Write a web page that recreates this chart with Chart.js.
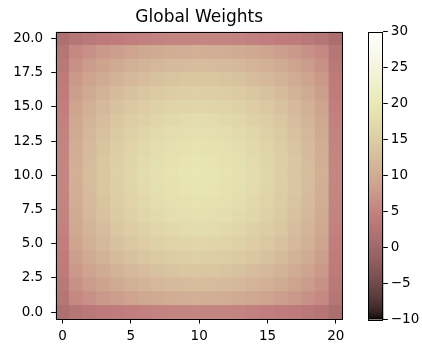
<!DOCTYPE html>
<html>
<head>
<meta charset="utf-8">
<script src="https://cdn.jsdelivr.net/npm/chart.js"></script>
<style>
    * { margin: 0; padding: 0; box-sizing: border-box; }
    body { width: 422px; height: 347px; background: #ffffff; overflow: hidden; }
    .wrap { position: relative; width: 422px; height: 347px; }
    .wrap canvas { position: absolute; left: 0; top: 0; }
</style>
</head>
<body>
<div class="wrap">
    <canvas id="heat" width="422" height="347"></canvas>
    <canvas id="cbar" width="422" height="347"></canvas>
</div>
<script>
// grid positions (cell centres)
const xCells = [0, 1, 2, 3, 4, 5, 6, 7, 8, 9, 10, 11, 12, 13, 14, 15, 16, 17, 18, 19, 20];
const yCells = [0, 1, 2, 3, 4, 5, 6, 7, 8, 9, 10, 11, 12, 13, 14, 15, 16, 17, 18, 19, 20];

// weights[row] is the row at y = row (row 0 is drawn at the bottom)
const weights = [
    [1.5, 2.9, 3.5, 3.9, 4.3, 4.6, 4.9, 5.1, 5.3, 5.4, 5.5, 5.4, 5.3, 5.1, 4.9, 4.6, 4.3, 3.9, 3.5, 2.9, 1.3],
    [2.9, 5.7, 6.7, 7.6, 8.3, 9.0, 9.5, 9.9, 10.2, 10.4, 10.5, 10.4, 10.2, 9.9, 9.5, 9.0, 8.3, 7.6, 6.7, 5.7, 2.9],
    [3.5, 6.7, 8.0, 9.0, 9.9, 10.6, 11.2, 11.7, 12.1, 12.4, 12.5, 12.4, 12.1, 11.7, 11.2, 10.6, 9.9, 9.0, 8.0, 6.7, 3.5],
    [3.9, 7.6, 9.0, 10.1, 11.1, 11.9, 12.6, 13.2, 13.6, 13.9, 14.0, 13.9, 13.6, 13.2, 12.6, 11.9, 11.1, 10.1, 9.0, 7.6, 3.9],
    [4.3, 8.3, 9.9, 11.1, 12.2, 13.1, 13.9, 14.5, 14.9, 15.3, 15.4, 15.3, 14.9, 14.5, 13.9, 13.1, 12.2, 11.1, 9.9, 8.3, 4.3],
    [4.6, 9.0, 10.6, 11.9, 13.1, 14.1, 14.9, 15.6, 16.1, 16.4, 16.6, 16.4, 16.1, 15.6, 14.9, 14.1, 13.1, 11.9, 10.6, 9.0, 4.6],
    [4.9, 9.5, 11.2, 12.6, 13.9, 14.9, 15.8, 16.5, 17.0, 17.4, 17.6, 17.4, 17.0, 16.5, 15.8, 14.9, 13.9, 12.6, 11.2, 9.5, 4.9],
    [5.1, 9.9, 11.7, 13.2, 14.5, 15.6, 16.5, 17.2, 17.8, 18.1, 18.3, 18.1, 17.8, 17.2, 16.5, 15.6, 14.5, 13.2, 11.7, 9.9, 5.1],
    [5.3, 10.2, 12.1, 13.6, 14.9, 16.1, 17.0, 17.8, 18.3, 18.7, 18.9, 18.7, 18.3, 17.8, 17.0, 16.1, 14.9, 13.6, 12.1, 10.2, 5.3],
    [5.4, 10.4, 12.4, 13.9, 15.3, 16.4, 17.4, 18.1, 18.7, 19.1, 19.3, 19.1, 18.7, 18.1, 17.4, 16.4, 15.3, 13.9, 12.4, 10.4, 5.4],
    [5.5, 10.5, 12.5, 14.0, 15.4, 16.6, 17.6, 18.3, 18.9, 19.3, 19.5, 19.3, 18.9, 18.3, 17.6, 16.6, 15.4, 14.0, 12.5, 10.5, 5.5],
    [5.4, 10.4, 12.4, 13.9, 15.3, 16.4, 17.4, 18.1, 18.7, 19.1, 19.3, 19.1, 18.7, 18.1, 17.4, 16.4, 15.3, 13.9, 12.4, 10.4, 5.4],
    [5.3, 10.2, 12.1, 13.6, 14.9, 16.1, 17.0, 17.8, 18.3, 18.7, 18.9, 18.7, 18.3, 17.8, 17.0, 16.1, 14.9, 13.6, 12.1, 10.2, 5.3],
    [5.1, 9.9, 11.7, 13.2, 14.5, 15.6, 16.5, 17.2, 17.8, 18.1, 18.3, 18.1, 17.8, 17.2, 16.5, 15.6, 14.5, 13.2, 11.7, 9.9, 5.1],
    [4.9, 9.5, 11.2, 12.6, 13.9, 14.9, 15.8, 16.5, 17.0, 17.4, 17.6, 17.4, 17.0, 16.5, 15.8, 14.9, 13.9, 12.6, 11.2, 9.5, 4.9],
    [4.6, 9.0, 10.6, 11.9, 13.1, 14.1, 14.9, 15.6, 16.1, 16.4, 16.6, 16.4, 16.1, 15.6, 14.9, 14.1, 13.1, 11.9, 10.6, 9.0, 4.6],
    [4.3, 8.3, 9.9, 11.1, 12.2, 13.1, 13.9, 14.5, 14.9, 15.3, 15.4, 15.3, 14.9, 14.5, 13.9, 13.1, 12.2, 11.1, 9.9, 8.3, 4.3],
    [3.9, 7.6, 9.0, 10.1, 11.1, 11.9, 12.6, 13.2, 13.6, 13.9, 14.0, 13.9, 13.6, 13.2, 12.6, 11.9, 11.1, 10.1, 9.0, 7.6, 3.9],
    [3.5, 6.7, 8.0, 9.0, 9.9, 10.6, 11.2, 11.7, 12.1, 12.4, 12.5, 12.4, 12.1, 11.7, 11.2, 10.6, 9.9, 9.0, 8.0, 6.7, 3.5],
    [2.9, 5.7, 6.7, 7.6, 8.3, 9.0, 9.5, 9.9, 10.2, 10.4, 10.5, 10.4, 10.2, 9.9, 9.5, 9.0, 8.3, 7.6, 6.7, 5.7, 2.9],
    [1.5, 2.9, 3.5, 3.9, 4.3, 4.6, 4.9, 5.1, 5.3, 5.4, 5.5, 5.4, 5.3, 5.1, 4.9, 4.6, 4.3, 3.9, 3.5, 2.9, 1.2]
];

const xTickStep = 5;
const yTickStep = 2.5;
const cbarTickStep = 5;
const vmin = -10, vmax = 30;

const FONT = "'DejaVu Sans', sans-serif";
const tickFont = { family: FONT, size: 13.5 };

// matplotlib "pink": sqrt((2 * gray + hot) / 3)
const clamp = v => Math.max(0, Math.min(1, v));
function pink(v) {
    const x = clamp((v - vmin) / (vmax - vmin));
    const hot = [
        Math.min(1, x / 0.365079),
        clamp((x - 0.365079) / 0.380953),
        clamp((x - 0.746032) / 0.253968)
    ];
    return 'rgb(' + hot.map(h => Math.round(255 * Math.sqrt((2 * x + h) / 3))).join(',') + ')';
}

// one floating-bar dataset per row, each bar one cell tall
const datasets = weights.map((row, r) => ({
    data: row.map((v, c) => ({ x: xCells[c], y: [yCells[r] - 0.5, yCells[r] + 0.5] })),
    backgroundColor: row.map(pink),
    borderWidth: 0,
    inflateAmount: 0.4,
    grouped: false,
    barPercentage: 1,
    categoryPercentage: 1
}));

const frame = {
    id: 'frame',
    afterDraw(chart) {
        const { ctx, chartArea: a } = chart;
        ctx.save();
        ctx.strokeStyle = '#000';
        ctx.lineWidth = 1;
        ctx.strokeRect(Math.round(a.left) + 0.5, Math.round(a.top) + 0.5,
            Math.round(a.right - a.left) - 1, Math.round(a.bottom - a.top));
        ctx.restore();
    }
};

const titleText = {
    id: 'titleText',
    afterDraw(chart) {
        const { ctx, chartArea: a } = chart;
        ctx.save();
        ctx.fillStyle = '#000';
        ctx.font = `17px ${FONT}`;
        ctx.textAlign = 'center';
        ctx.textBaseline = 'middle';
        ctx.fillText('Global Weights', (a.left + a.right) / 2, 17.5);
        ctx.restore();
    }
};

// tick marks only, sitting on the tick values
const tickGrid = { display: true, offset: false, drawOnChartArea: false, tickLength: 4.5, tickColor: '#000', tickWidth: 1 };

new Chart(document.getElementById('heat'), {
    type: 'bar',
    data: { datasets },
    options: {
        responsive: false,
        animation: false,
        devicePixelRatio: 1,
        layout: { padding: { top: 31.7, right: 79.3, left: 0, bottom: 0 } },
        plugins: { legend: { display: false }, tooltip: { enabled: false } },
        scales: {
            x: {
                type: 'linear', min: -0.5, max: 20.5, offset: false,
                ticks: { stepSize: xTickStep, includeBounds: false, autoSkip: false, font: tickFont, color: '#000', padding: 5, maxRotation: 0 },
                grid: tickGrid,
                border: { display: false },
                afterFit: s => { s.height = 28; }
            },
            y: {
                type: 'linear', min: -0.5, max: 20.5,
                ticks: { stepSize: yTickStep, includeBounds: false, autoSkip: false, font: tickFont, color: '#000', padding: 8, callback: v => v.toFixed(1) },
                grid: tickGrid,
                border: { display: false },
                afterFit: s => { s.width = 55.7; }
            }
        }
    },
    plugins: [frame, titleText]
});

// colour bar drawn as a gradient along its own value scale
const gradientFill = {
    id: 'gradientFill',
    beforeDatasetsDraw(chart) {
        const { ctx, chartArea: a, scales } = chart;
        const y = scales.y;
        const g = ctx.createLinearGradient(0, y.getPixelForValue(vmin), 0, y.getPixelForValue(vmax));
        for (let i = 0; i <= 80; i++) {
            const v = vmin + (vmax - vmin) * i / 80;
            g.addColorStop(i / 80, pink(v));
        }
        ctx.save();
        ctx.fillStyle = g;
        ctx.fillRect(a.left, a.top, a.right - a.left, a.bottom - a.top);
        ctx.strokeStyle = '#000';
        ctx.lineWidth = 1;
        ctx.strokeRect(Math.round(a.left) + 0.5, Math.round(a.top) + 0.5,
            Math.round(a.right - a.left) - 1, Math.round(a.bottom - a.top));
        ctx.restore();
    }
};

new Chart(document.getElementById('cbar'), {
    type: 'bar',
    data: { datasets: [] },
    options: {
        responsive: false,
        animation: false,
        devicePixelRatio: 1,
        layout: { padding: { top: 31.7, left: 368, right: 0, bottom: 27.5 } },
        plugins: { legend: { display: false }, tooltip: { enabled: false } },
        scales: {
            x: { type: 'linear', display: false, min: 0, max: 1 },
            y: {
                type: 'linear', position: 'right', min: vmin, max: vmax,
                ticks: { stepSize: cbarTickStep, autoSkip: false, font: tickFont, color: '#000', padding: 3, callback: v => String(v).replace('-', '\u2212') },
                grid: tickGrid,
                border: { display: false },
                afterFit: s => { s.width = 38.7; }
            }
        }
    },
    plugins: [gradientFill]
});
</script>
</body>
</html>
